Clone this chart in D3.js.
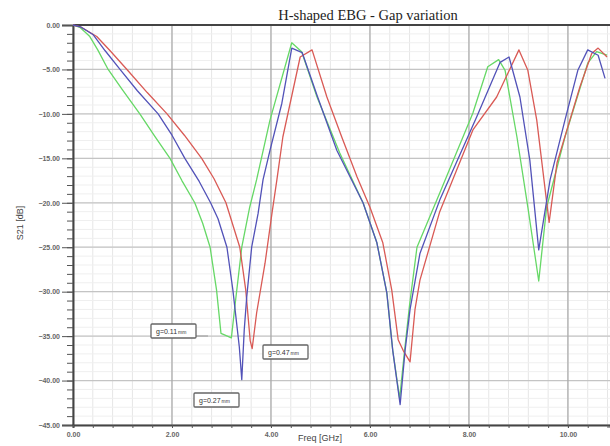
<!DOCTYPE html>
<html>
<head>
<meta charset="utf-8">
<script src="https://cdn.jsdelivr.net/npm/d3@7"></script>
<style>
  body { margin: 0; background: #fff; }
  svg { display: block; }
</style>
</head>
<body>
<div id="chart"></div>
<script>
// S21 vs frequency
const freqG = [0, 0.15, 0.34, 0.5, 0.71, 1.0, 1.35, 1.65, 1.96, 2.2, 2.46, 2.62, 2.77, 2.9, 2.99, 3.2, 3.27, 3.41, 3.57, 3.71, 3.98, 4.42, 4.62, 4.93, 5.39, 5.86, 6.14, 6.34, 6.46, 6.6, 6.7, 6.8, 6.95, 7.41, 8.08, 8.38, 8.6, 8.73, 8.97, 9.19, 9.41, 9.57, 9.94, 10.4, 10.58, 10.79];
const s21G  = [0, -0.3, -1.3, -2.8, -5, -7.3, -10, -12.5, -15, -17.5, -20, -22.3, -25, -29.8, -34.7, -35.2, -31.7, -25, -20.5, -17.4, -10.7, -2.0, -3.0, -8.1, -14.4, -20, -24.5, -30.1, -36.6, -42, -36.6, -31.5, -25, -18.9, -9.9, -4.7, -3.9, -5.1, -12.6, -20.5, -28.8, -20.5, -12.6, -4.3, -3.0, -3.4];

const freqB = [0, 0.15, 0.41, 0.65, 0.95, 1.3, 1.72, 2.0, 2.26, 2.55, 2.78, 2.93, 3.11, 3.23, 3.36, 3.41, 3.46, 3.51, 3.61, 3.74, 3.84, 3.98, 4.22, 4.42, 4.63, 4.93, 5.33, 5.86, 6.14, 6.34, 6.46, 6.61, 6.71, 6.81, 7.01, 7.41, 8.16, 8.63, 8.81, 9.03, 9.23, 9.41, 9.64, 9.94, 10.2, 10.4, 10.61, 10.75];
const s21B  = [0, -0.2, -1.1, -2.9, -5, -7.4, -10, -12.4, -15, -17.6, -20, -21.8, -25, -29.8, -36.2, -39.9, -34.3, -30.6, -25, -21.2, -17.4, -14.1, -8.8, -2.6, -3.1, -7.9, -14.1, -20, -24.5, -30.1, -36.6, -42.7, -36.6, -32, -25.7, -19.7, -10.3, -4.2, -3.6, -8.1, -15.2, -25.3, -17.4, -10.7, -5.1, -2.8, -3.4, -6.0];

const freqR = [0, 0.15, 0.48, 0.75, 1.09, 1.5, 1.9, 2.25, 2.6, 2.85, 3.09, 3.37, 3.49, 3.58, 3.62, 3.71, 3.88, 4.02, 4.12, 4.24, 4.59, 4.83, 5.13, 5.43, 5.74, 6.0, 6.26, 6.44, 6.57, 6.67, 6.81, 6.91, 7.01, 7.41, 8.08, 8.56, 9.01, 9.19, 9.37, 9.62, 9.78, 9.98, 10.24, 10.48, 10.61, 10.79];
const s21R  = [0, -0.2, -1.3, -2.9, -5, -7.6, -10, -12.4, -15, -17.3, -20, -25, -29.8, -35.5, -36.4, -32.4, -26.8, -21.2, -17.4, -12.6, -3.6, -2.8, -8.1, -12.6, -17.1, -20.5, -24.5, -29.8, -35.4, -36.6, -37.9, -32, -28.7, -21, -11.8, -8.1, -2.8, -5.1, -10.7, -22.2, -15.5, -11.8, -7, -3.2, -2.6, -3.6];

const xTicks = [0, 2, 4, 6, 8, 10];
const yTicks = [0, -5, -10, -15, -20, -25, -30, -35, -40, -45];

const width = 610, height = 446;
const margin = {left: 73, right: 0, top: 25, bottom: 21};

const svg = d3.select("#chart")
  .append("svg")
  .attr("width", width)
  .attr("height", height);

const x = d3.scaleLinear().domain([0, 10.85]).range([margin.left, width - margin.right]);
const y = d3.scaleLinear().domain([-45, 0]).range([height - margin.bottom, margin.top]);

// grid
const grid = svg.append("g");
grid.selectAll(".vmin")
  .data(d3.range(0, 10.85, 0.4))
  .enter().append("line")
  .attr("x1", d => x(d)).attr("x2", d => x(d))
  .attr("y1", y(0)).attr("y2", y(-45))
  .style("stroke", "#e6e6e6").style("stroke-width", 1);
grid.selectAll(".hmin")
  .data(d3.range(0, -45, -1))
  .enter().append("line")
  .attr("x1", x(0)).attr("x2", width)
  .attr("y1", d => y(d)).attr("y2", d => y(d))
  .style("stroke", "#efefef").style("stroke-width", 1);
grid.selectAll(".hmaj")
  .data(yTicks)
  .enter().append("line")
  .attr("x1", x(0)).attr("x2", width)
  .attr("y1", d => y(d)).attr("y2", d => y(d))
  .style("stroke", "#c4c4c4").style("stroke-width", 1.2);
grid.selectAll(".vmaj")
  .data(xTicks)
  .enter().append("line")
  .attr("x1", d => x(d)).attr("x2", d => x(d))
  .attr("y1", y(0)).attr("y2", y(-45))
  .style("stroke", "#a8a8a8").style("stroke-width", 1.2);

// y axis: major + minor ticks
const yAxis = svg.append("g")
  .attr("transform", "translate(" + x(0) + ",0)")
  .call(d3.axisLeft(y).tickValues(yTicks).tickSize(11).tickFormat(d3.format(".2f")));
svg.append("g")
  .attr("transform", "translate(" + x(0) + ",0)")
  .call(d3.axisLeft(y).tickValues(d3.range(0, -45, -1)).tickSize(6).tickFormat(""))
  .select(".domain").remove();

const xAxis = svg.append("g")
  .attr("transform", "translate(0," + y(-45) + ")")
  .call(d3.axisBottom(x).tickValues(xTicks).tickSize(3).tickFormat(d3.format(".2f")));
svg.append("g")
  .attr("transform", "translate(0," + y(-45) + ")")
  .call(d3.axisBottom(x).tickValues(d3.range(0, 10.85, 0.4)).tickSize(3).tickFormat(""))
  .select(".domain").remove();

svg.selectAll(".domain").style("stroke", "#444").style("stroke-width", 2);
svg.selectAll(".tick line").style("stroke", "#555");
svg.selectAll(".tick text")
  .style("font-family", "Liberation Sans, Arial, sans-serif")
  .style("font-size", "7px")
  .style("font-weight", "bold")
  .style("fill", "#666");
yAxis.selectAll(".tick text").attr("x", -13);
xAxis.selectAll(".tick text").attr("y", 7);

// top frame line
svg.append("line")
  .attr("x1", x(0)).attr("x2", width)
  .attr("y1", y(0)).attr("y2", y(0))
  .style("stroke", "#444").style("stroke-width", 2);

// curves
const line = d3.line().x(d => x(d[0])).y(d => y(d[1]));
const series = [
  {f: freqG, s: s21G, color: "#66d866"},
  {f: freqR, s: s21R, color: "#d95a55"},
  {f: freqB, s: s21B, color: "#5252b8"}
];
series.forEach(sr => {
  svg.append("path")
    .datum(sr.f.map((f, i) => [f, sr.s[i]]))
    .attr("d", line)
    .style("fill", "none")
    .style("stroke", sr.color)
    .style("stroke-width", 1.3)
    .style("stroke-linejoin", "round");
});

// title and axis labels
svg.append("text")
  .attr("x", 368).attr("y", 20)
  .attr("text-anchor", "middle")
  .text("H-shaped EBG - Gap variation")
  .style("font-family", "Liberation Serif, DejaVu Serif, serif")
  .style("font-size", "14.5px")
  .style("fill", "#222");

svg.append("text")
  .attr("x", 320).attr("y", 441)
  .attr("text-anchor", "middle")
  .text("Freq [GHz]")
  .style("font-family", "Liberation Sans, Arial, sans-serif")
  .style("font-size", "9px")
  .style("fill", "#444");

svg.append("text")
  .attr("transform", "translate(23,223) rotate(-90)")
  .attr("text-anchor", "middle")
  .text("S21 [dB]")
  .style("font-family", "Liberation Sans, Arial, sans-serif")
  .style("font-size", "9px")
  .style("fill", "#444");

// marker boxes
const labels = [
  {t: "g=0.11", bx: 151, by: 324},
  {t: "g=0.47", bx: 263, by: 345},
  {t: "g=0.27", bx: 194, by: 393}
];
svg.append("line")
  .attr("x1", 196).attr("x2", 208)
  .attr("y1", 336).attr("y2", 336)
  .style("stroke", "#999").style("stroke-width", 1);
labels.forEach(l => {
  svg.append("rect")
    .attr("x", l.bx).attr("y", l.by)
    .attr("width", 45).attr("height", 14)
    .attr("rx", 1)
    .style("fill", "#fff")
    .style("stroke", "#666")
    .style("stroke-width", 1.3);
  const t = svg.append("text")
    .attr("x", l.bx + 5).attr("y", l.by + 9.5)
    .style("font-family", "Liberation Sans, Arial, sans-serif")
    .style("font-size", "7px")
    .style("fill", "#333");
  t.append("tspan").text(l.t);
  t.append("tspan").text("mm").style("font-size", "5px").attr("dx", 1);
});
</script>
</body>
</html>
